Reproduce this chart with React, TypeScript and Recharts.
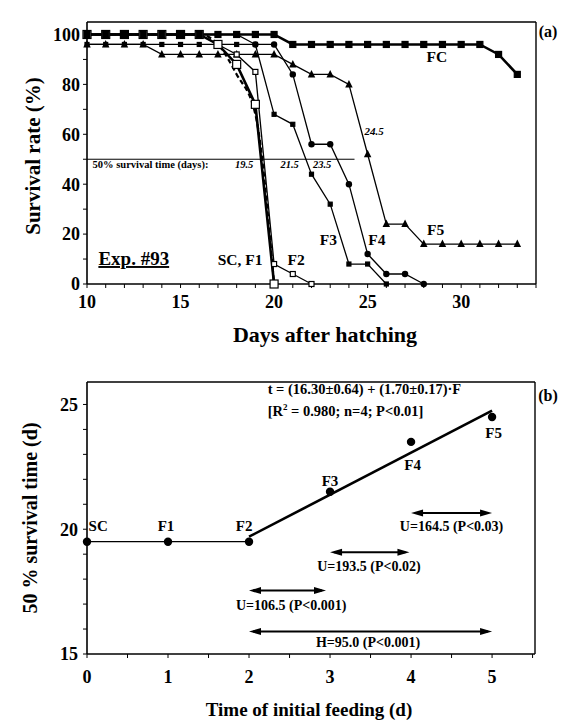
import { LineChart, Line, XAxis, YAxis, ReferenceLine, ReferenceDot } from 'recharts'

const SERIF = "'Liberation Serif', 'Times New Roman', Times, serif"

// ---- (a) Exp. #93: survival (%) by day after hatching ----
const days = [10, 11, 12, 13, 14, 15, 16, 17, 18, 19, 20, 21, 22, 23, 24, 25, 26, 27, 28, 29, 30, 31, 32, 33]
const fcSurvival = [100, 100, 100, 100, 100, 100, 100, 100, 100, 100, 100, 96, 96, 96, 96, 96, 96, 96, 96, 96, 96, 96, 92, 84]
const scSurvival = [100, 100, 100, 100, 100, 100, 100, 96, 84, 68, 0, null, null, null, null, null, null, null, null, null, null, null, null, null]
const f1Survival = [100, 100, 100, 100, 100, 100, 100, 96, 88, 72, 0, null, null, null, null, null, null, null, null, null, null, null, null, null]
const f2Survival = [100, 100, 100, 100, 100, 100, 100, 96, 92, 85, 8, 4, 0, null, null, null, null, null, null, null, null, null, null, null]
const f3Survival = [96, 96, 96, 96, 96, 96, 96, 96, 96, 96, 68, 64, 44, 32, 8, 8, 0, null, null, null, null, null, null, null]
const f4Survival = [100, 100, 100, 100, 100, 100, 100, 100, 100, 96, 96, 84, 56, 56, 40, 12, 4, 4, 0, null, null, null, null, null]
const f5Survival = [96, 96, 96, 96, 92, 92, 92, 92, 92, 92, 92, 88, 84, 84, 80, 52, 24, 24, 16, 16, 16, 16, 16, 16]

const dayTicks = [10, 11, 12, 13, 14, 15, 16, 17, 18, 19, 20, 21, 22, 23, 24, 25, 26, 27, 28, 29, 30, 31, 32, 33, 34]
const rateTicks = [0, 10, 20, 30, 40, 50, 60, 70, 80, 90, 100]

const halfTimeTexts = ['19.5', '21.5', '23.5']

// ---- (b) 50 % survival time vs. time of initial feeding ----
const feedGroups = ['SC', 'F1', 'F2', 'F3', 'F4', 'F5']
const feedDays = [0, 1, 2, 3, 4, 5]
const halfSurvival = [19.5, 19.5, 19.5, 21.5, 23.5, 24.5]
const fitDays = [2, 5]
const fitTimes = [19.7, 24.75]
const feedTicks = [0, 0.5, 1, 1.5, 2, 2.5, 3, 3.5, 4, 4.5, 5, 5.5]
const timeTicks = [15, 16, 17, 18, 19, 20, 21, 22, 23, 24, 25]

const comparisons = [
  { from: 4, to: 5, level: 20.65, text: 'U=164.5 (P<0.03)' },
  { from: 3, to: 3.98, level: 19.08, text: 'U=193.5 (P<0.02)' },
  { from: 2, to: 2.95, level: 17.54, text: 'U=106.5 (P<0.001)' },
  { from: 2, to: 5, level: 15.9, text: 'H=95.0 (P<0.001)' },
]

const survivalRows = days.map((d, i) => ({
  day: d,
  FC: fcSurvival[i],
  SC: scSurvival[i],
  F1: f1Survival[i],
  F2: f2Survival[i],
  F3: f3Survival[i],
  F4: f4Survival[i],
  F5: f5Survival[i],
}))

const groupRows = feedDays.map((f, i) => ({ f, t: halfSurvival[i], name: feedGroups[i] }))
const flatRows = groupRows.slice(0, 3)
const risingRows = groupRows.slice(3)
const fitRows = fitDays.map((f, i) => ({ f, t: fitTimes[i] }))

// label placement (data coordinates)
const curveLabels = [
  { x: 28.7, y: 88.9, text: 'FC' },
  { x: 28.64, y: 19.6, text: 'F5' },
  { x: 25.5, y: 15.6, text: 'F4' },
  { x: 22.9, y: 15.6, text: 'F3' },
  { x: 21.18, y: 7.6, text: 'F2' },
  { x: 18.18, y: 7.6, text: 'SC, F1' },
]
const halfTimeX = [18.4, 20.83, 22.57]

const groupLabelPos = [
  { x: 0.02, y: 19.91, anchor: 'start' },
  { x: 0.975, y: 19.91, anchor: 'middle' },
  { x: 1.94, y: 19.91, anchor: 'middle' },
  { x: 3.0, y: 21.75, anchor: 'middle' },
  { x: 4.02, y: 22.39, anchor: 'middle' },
  { x: 5.02, y: 23.66, anchor: 'middle' },
]
const comparisonTextPos = [
  { x: 4.5, y: 19.94 },
  { x: 3.48, y: 18.33 },
  { x: 2.52, y: 16.77 },
  { x: 3.47, y: 15.28 },
]

const noDot = (p: any) => p.cy == null || p.value == null || Number.isNaN(p.cy)

function squareDot(name: string, size: number, fill: string) {
  return (p: any) => {
    if (noDot(p)) return <g key={`${name}-${p.index}`} />
    return (
      <rect key={`${name}-${p.index}`} x={p.cx - size / 2} y={p.cy - size / 2} width={size} height={size}
        fill={fill} stroke="#000" strokeWidth={1.2} />
    )
  }
}

function circleDot(name: string, r: number) {
  return (p: any) => {
    if (noDot(p)) return <g key={`${name}-${p.index}`} />
    return <circle key={`${name}-${p.index}`} cx={p.cx} cy={p.cy} r={r} fill="#000" />
  }
}

function triangleDot(name: string, s: number) {
  return (p: any) => {
    if (noDot(p)) return <g key={`${name}-${p.index}`} />
    const { cx, cy } = p
    return (
      <polygon key={`${name}-${p.index}`}
        points={`${cx},${cy - s * 0.6} ${cx - s / 2},${cy + s * 0.4} ${cx + s / 2},${cy + s * 0.4}`} fill="#000" />
    )
  }
}

function textShape(text: any, size: number, anchor = 'middle', extra: any = {}) {
  return (p: any) => (
    <text x={p.cx} y={p.cy} textAnchor={anchor} fontFamily={SERIF} fontWeight="bold" fontSize={size} fill="#000" {...extra}>
      {text}
    </text>
  )
}

const arrowShape = (p: any) => {
  const { x1, y1, x2, y2 } = p
  const h = 12
  const w = 3.5
  return (
    <g>
      <line x1={x1 + 4} y1={y1} x2={x2 - 4} y2={y2} stroke="#000" strokeWidth={2} />
      <polygon points={`${x1},${y1} ${x1 + h},${y1 - w} ${x1 + h},${y1 + w}`} fill="#000" />
      <polygon points={`${x2},${y2} ${x2 - h},${y2 - w} ${x2 - h},${y2 + w}`} fill="#000" />
    </g>
  )
}

const tickStyle = { fill: '#000', fontSize: 18, fontWeight: 'bold', fontFamily: SERIF }
const axisLine = { stroke: '#000', strokeWidth: 1.6 }

function Title({ x, y, size, text, rotate = false }: any) {
  return (
    <div
      style={{
        position: 'absolute',
        left: x,
        top: y,
        transform: `translate(-50%, -50%)${rotate ? ' rotate(-90deg)' : ''}`,
        whiteSpace: 'nowrap',
        fontFamily: SERIF,
        fontWeight: 'bold',
        fontSize: size,
        lineHeight: 1,
        color: '#000',
      }}
    >
      {text}
    </div>
  )
}

export default function App() {
  return (
    <div style={{ position: 'absolute', left: 0, top: 0, width: 573, height: 726, background: '#fff' }}>
      <div style={{ position: 'absolute', left: 0, top: 0 }}>
        <LineChart width={573} height={360} data={survivalRows} margin={{ top: 22, right: 37, left: 0, bottom: 0 }}>
          <XAxis
            dataKey="day"
            type="number"
            domain={[10, 34]}
            ticks={dayTicks}
            interval={0}
            tickFormatter={(v: number) => (v % 5 === 0 && v <= 30 ? String(v) : '')}
            tick={tickStyle}
            tickSize={4}
            tickMargin={7}
            axisLine={axisLine}
            tickLine={{ stroke: '#000' }}
            height={76}
          />
          <YAxis
            type="number"
            domain={[0, 105]}
            ticks={rateTicks}
            interval={0}
            tickFormatter={(v: number) => (v % 20 === 0 ? String(v) : '')}
            tick={tickStyle}
            tickSize={4}
            tickMargin={3}
            axisLine={axisLine}
            tickLine={{ stroke: '#000' }}
            width={87}
          />
          <ReferenceLine y={105} stroke="#000" strokeWidth={1.4} />
          <ReferenceLine x={34} stroke="#000" strokeWidth={1.4} />
          <ReferenceLine segment={[{ x: 10, y: 50 }, { x: 24.3, y: 50 }]} stroke="#000" strokeWidth={1} />

          <Line dataKey="F5" stroke="#000" strokeWidth={1.3} dot={triangleDot('f5', 7.5)} isAnimationActive={false} />
          <Line dataKey="F4" stroke="#000" strokeWidth={1.3} dot={circleDot('f4', 3.2)} isAnimationActive={false} />
          <Line dataKey="F3" stroke="#000" strokeWidth={1.3} dot={squareDot('f3', 4, '#000')} isAnimationActive={false} />
          <Line dataKey="F2" stroke="#000" strokeWidth={1.3} dot={squareDot('f2', 5, '#fff')} isAnimationActive={false} />
          <Line dataKey="SC" type="monotone" stroke="#000" strokeWidth={2.2} strokeDasharray="5 3" dot={false} isAnimationActive={false} />
          <Line dataKey="F1" stroke="#000" strokeWidth={2.6} dot={squareDot('f1', 8, '#fff')} isAnimationActive={false} />
          <Line dataKey="FC" stroke="#000" strokeWidth={2.6} dot={squareDot('fc', 6, '#000')} isAnimationActive={false} />

          <ReferenceDot x={10.3} y={46.6} r={1} shape={textShape('50% survival time (days):', 10.5, 'start')} />
          {halfTimeTexts.map((t, i) => (
            <ReferenceDot key={`ht-${i}`} x={halfTimeX[i]} y={46.6} r={1} shape={textShape(t, 10.5, 'middle', { fontStyle: 'italic' })} />
          ))}
          <ReferenceDot x={25.35} y={59.6} r={1} shape={textShape('24.5', 11, 'middle', { fontStyle: 'italic' })} />
          {curveLabels.map((c) => (
            <ReferenceDot key={c.text} x={c.x} y={c.y} r={1} shape={textShape(c.text, 15.5)} />
          ))}
          <ReferenceDot x={12.5} y={7.6} r={1} shape={textShape('Exp. #93', 19, 'middle', { textDecoration: 'underline' })} />
        </LineChart>
      </div>

      <div style={{ position: 'absolute', left: 0, top: 360 }}>
        <LineChart width={573} height={366} margin={{ top: 22, right: 38, left: 0, bottom: 0 }}>
          <XAxis
            dataKey="f"
            type="number"
            domain={[0, 5.53]}
            ticks={feedTicks}
            interval={0}
            tickFormatter={(v: number) => (Number.isInteger(v) ? String(v) : '')}
            tick={tickStyle}
            tickSize={4}
            tickMargin={12}
            axisLine={axisLine}
            tickLine={{ stroke: '#000' }}
            height={72}
          />
          <YAxis
            type="number"
            domain={[15, 25.9]}
            ticks={timeTicks}
            interval={0}
            tickFormatter={(v: number) => (v % 5 === 0 ? String(v) : '')}
            tick={tickStyle}
            tickSize={4}
            tickMargin={5}
            axisLine={axisLine}
            tickLine={{ stroke: '#000' }}
            width={87}
          />
          <ReferenceLine y={25.9} stroke="#000" strokeWidth={1.4} />
          <ReferenceLine x={5.53} stroke="#000" strokeWidth={1.4} />

          <Line data={flatRows} dataKey="t" stroke="#000" strokeWidth={1.3} dot={circleDot('flat', 4.2)} isAnimationActive={false} />
          <Line data={fitRows} dataKey="t" stroke="#000" strokeWidth={2.6} dot={false} isAnimationActive={false} />
          <Line data={risingRows} dataKey="t" stroke="none" dot={circleDot('rise', 4.2)} isAnimationActive={false} />

          {comparisons.map((c, i) => (
            <ReferenceLine key={`cmp-${i}`} segment={[{ x: c.from, y: c.level }, { x: c.to, y: c.level }]} shape={arrowShape} />
          ))}
          {comparisons.map((c, i) => (
            <ReferenceDot key={`cmpt-${i}`} x={comparisonTextPos[i].x} y={comparisonTextPos[i].y} r={1} shape={textShape(c.text, 14)} />
          ))}
          {feedGroups.map((g, i) => (
            <ReferenceDot key={`g-${g}`} x={groupLabelPos[i].x} y={groupLabelPos[i].y} r={1} shape={textShape(g, 15, groupLabelPos[i].anchor)} />
          ))}
          <ReferenceDot x={2.23} y={25.4} r={1} shape={textShape('t = (16.30±0.64) + (1.70±0.17)·F', 14.5, 'start')} />
          <ReferenceDot
            x={2.23}
            y={24.53}
            r={1}
            shape={textShape(
              [
                <tspan key="a">[R</tspan>,
                <tspan key="b" dy={-6} fontSize={9}>2</tspan>,
                <tspan key="c" dy={6}> = 0.980; n=4; P&lt;0.01]</tspan>,
              ],
              14.5,
              'start',
            )}
          />
        </LineChart>
      </div>

      <Title x={33} y={156} size={21} text="Survival rate (%)" rotate />
      <Title x={325} y={335} size={22} text="Days after hatching" />
      <Title x={548} y={32} size={16} text="(a)" />
      <Title x={30} y={518} size={20} text="50 % survival time (d)" rotate />
      <Title x={309} y={709} size={19} text="Time of initial feeding (d)" />
      <Title x={548} y={396} size={16} text="(b)" />
    </div>
  )
}
